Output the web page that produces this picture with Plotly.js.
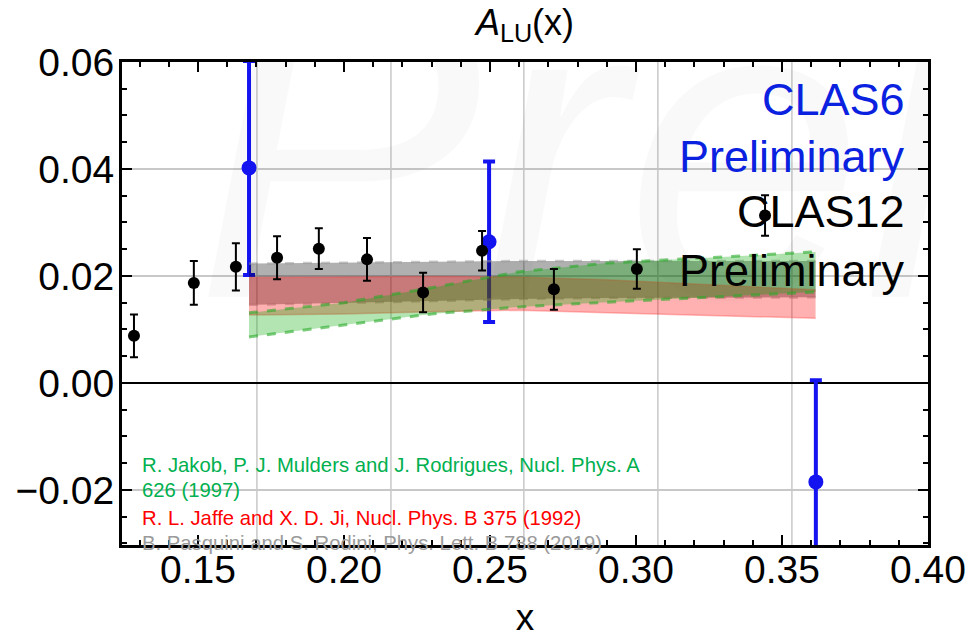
<!DOCTYPE html>
<html><head><meta charset="utf-8">
<script src="https://cdn.plot.ly/plotly-3.0.1.min.js"></script>
<style>html,body{margin:0;padding:0;background:#fff}#chart{width:968px;height:638px}</style>
</head><body><div id="chart"></div>
<script>
// CLAS12 preliminary points
const clas12X   = [0.1281, 0.1486, 0.1630, 0.1771, 0.1914, 0.2079, 0.2271, 0.2473, 0.2719, 0.3003, 0.3442];
const clas12Y   = [0.0088, 0.0187, 0.0217, 0.0234, 0.0251, 0.0231, 0.0169, 0.0247, 0.0175, 0.0213, 0.0313];
const clas12Err = [0.0040, 0.0041, 0.0044, 0.0040, 0.0038, 0.0040, 0.0037, 0.0037, 0.0038, 0.0037, 0.0038];
// CLAS6 preliminary points
const clas6X   = [0.1675, 0.2497, 0.3616];
const clas6Y   = [0.0402, 0.0264, -0.0185];
const clas6Err = [0.0200, 0.0150, 0.0190];
// model bands
const bandX        = [0.1675, 0.20, 0.23, 0.26, 0.29, 0.3615];
const pasquiniLow  = [0.0146, 0.0149, 0.0153, 0.0157, 0.0159, 0.0160];
const pasquiniHigh = [0.0223, 0.0225, 0.0227, 0.0228, 0.0228, 0.0228];
const jaffeLow     = [0.0127, 0.0129, 0.0133, 0.0136, 0.0131, 0.0121];
const jaffeHigh    = [0.0197, 0.0198, 0.0199, 0.0198, 0.0193, 0.0174];
const jakobLow     = [0.0086, 0.0108, 0.0129, 0.0142, 0.0151, 0.0170];
const jakobHigh    = [0.0131, 0.0150, 0.0178, 0.0208, 0.0224, 0.0245];
// axes
const xTicks = [0.15, 0.20, 0.25, 0.30, 0.35, 0.40];
const yTicks = [-0.02, 0.00, 0.02, 0.04, 0.06];
const gridX  = [0.1702, 0.2161, 0.2616, 0.3075, 0.3534];
// watermark
const watermarkText = 'Preliminary';

const FONT = 'Liberation Sans, Arial, Helvetica, sans-serif';

function band(low, high, fill, lineColor, dash, lw) {
  return [
    {x: bandX, y: low, type: 'scatter', mode: 'lines', line: {color: lineColor, width: lw, dash: dash}, hoverinfo: 'skip', showlegend: false},
    {x: bandX, y: high, type: 'scatter', mode: 'lines', fill: 'tonexty', fillcolor: fill, line: {color: lineColor, width: lw, dash: dash}, hoverinfo: 'skip', showlegend: false}
  ];
}

const traces = [
  // faint watermark, clipped to the plotting area
  {x: [0.149], y: [-0.004], type: 'scatter', mode: 'text', text: [watermarkText], textposition: 'top right',
   textfont: {family: FONT, size: 430, color: 'rgba(0,0,0,0.025)', style: 'italic'}, cliponaxis: true,
   hoverinfo: 'skip', showlegend: false},
  {x: clas6X, y: clas6Y, type: 'scatter', mode: 'markers',
   marker: {color: '#1414f0', size: 15},
   error_y: {type: 'data', array: clas6Err, visible: true, color: '#1414f0', thickness: 4, width: 6},
   showlegend: false},
  ...band(pasquiniLow, pasquiniHigh, 'rgba(0,0,0,0.31)', 'rgba(150,150,150,0.5)', 'dash', 2.5),
  ...band(jaffeLow, jaffeHigh, 'rgba(255,0,0,0.31)', 'rgba(255,60,60,0.35)', 'solid', 1.5),
  ...band(jakobLow, jakobHigh, 'rgba(0,170,0,0.30)', 'rgba(40,170,40,0.6)', 'dash', 3),
  {x: clas12X, y: clas12Y, type: 'scatter', mode: 'markers',
   marker: {color: '#000', size: 12},
   error_y: {type: 'data', array: clas12Err, visible: true, color: '#000', thickness: 2, width: 4},
   showlegend: false}
];

const shapes = gridX.map(v => ({type: 'line', xref: 'x', yref: 'paper', x0: v, x1: v, y0: 0, y1: 1,
  line: {color: '#c8c8c8', width: 1.5}, layer: 'below'}));

const annotations = [
  {text: 'CLAS6', xref: 'x', yref: 'y', x: 0.3928, y: 0.0529, xanchor: 'right', yanchor: 'middle', showarrow: false,
   font: {family: FONT, size: 45, color: '#0a22e0'}},
  {text: 'Preliminary', xref: 'x', yref: 'y', x: 0.3928, y: 0.0424, xanchor: 'right', yanchor: 'middle', showarrow: false,
   font: {family: FONT, size: 45, color: '#0a22e0'}},
  {text: 'CLAS12', xref: 'x', yref: 'y', x: 0.3928, y: 0.0320, xanchor: 'right', yanchor: 'middle', showarrow: false,
   font: {family: FONT, size: 45, color: '#000'}},
  {text: 'Preliminary', xref: 'x', yref: 'y', x: 0.3928, y: 0.0211, xanchor: 'right', yanchor: 'middle', showarrow: false,
   font: {family: FONT, size: 45, color: '#000'}},
  {text: 'R. Jakob, P. J. Mulders and J. Rodrigues, Nucl. Phys. A', xref: 'x', yref: 'y', x: 0.1301, y: -0.0153,
   xanchor: 'left', yanchor: 'middle', showarrow: false, font: {family: FONT, size: 20.3, color: '#00b050'}},
  {text: '626 (1997)', xref: 'x', yref: 'y', x: 0.1301, y: -0.0200,
   xanchor: 'left', yanchor: 'middle', showarrow: false, font: {family: FONT, size: 20.3, color: '#00b050'}},
  {text: 'R. L. Jaffe and X. D. Ji, Nucl. Phys. B 375 (1992)', xref: 'x', yref: 'y', x: 0.1301, y: -0.0252,
   xanchor: 'left', yanchor: 'middle', showarrow: false, font: {family: FONT, size: 20.3, color: '#ff0000'}},
  {text: 'B. Pasquini and S. Rodini, Phys. Lett. B 788 (2019)', xref: 'x', yref: 'y', x: 0.1301, y: -0.0299,
   xanchor: 'left', yanchor: 'middle', showarrow: false, font: {family: FONT, size: 20.3, color: '#9a9a9a'}}
];

const layout = {
  width: 968, height: 638,
  margin: {l: 122, r: 40, t: 62, b: 93},
  paper_bgcolor: '#fff', plot_bgcolor: '#fff',
  font: {family: FONT, color: '#000'},
  title: {text: '<i>A</i><sub>LU</sub>(x)', font: {family: FONT, size: 36, color: '#000'},
          xref: 'paper', x: 0.5, xanchor: 'center', yref: 'container', y: 0.965, yanchor: 'middle'},
  xaxis: {range: [0.124, 0.40], tickvals: xTicks, tickformat: '.2f', ticks: 'inside', ticklen: 10, tickwidth: 2,
          tickcolor: '#000', showline: true, linewidth: 3, linecolor: '#000', mirror: 'allticks',
          showgrid: false, zeroline: false, tickfont: {family: FONT, size: 39, color: '#000'},
          ticklabelstandoff: -12,
          minor: {dtick: 0.01, tick0: 0, ticks: 'inside', ticklen: 5, tickwidth: 2, tickcolor: '#000', showgrid: false},
          title: {text: 'x', font: {family: FONT, size: 37, color: '#000'}, standoff: 30}},
  yaxis: {range: [-0.0303, 0.06], tickvals: yTicks, tickformat: '.2f', ticks: 'inside', ticklen: 10, tickwidth: 2,
          tickcolor: '#000', showline: true, linewidth: 3, linecolor: '#000', mirror: 'allticks',
          showgrid: true, gridcolor: '#c8c8c8', gridwidth: 1.5,
          zeroline: true, zerolinecolor: '#000', zerolinewidth: 1.5,
          tickfont: {family: FONT, size: 39, color: '#000'}, ticklabelstandoff: -3,
          minor: {dtick: 0.005, tick0: 0, ticks: 'inside', ticklen: 5, tickwidth: 2, tickcolor: '#000', showgrid: false}},
  shapes: shapes,
  annotations: annotations,
  showlegend: false
};

Plotly.newPlot('chart', traces, layout, {displayModeBar: false, staticPlot: true});
</script></body></html>
